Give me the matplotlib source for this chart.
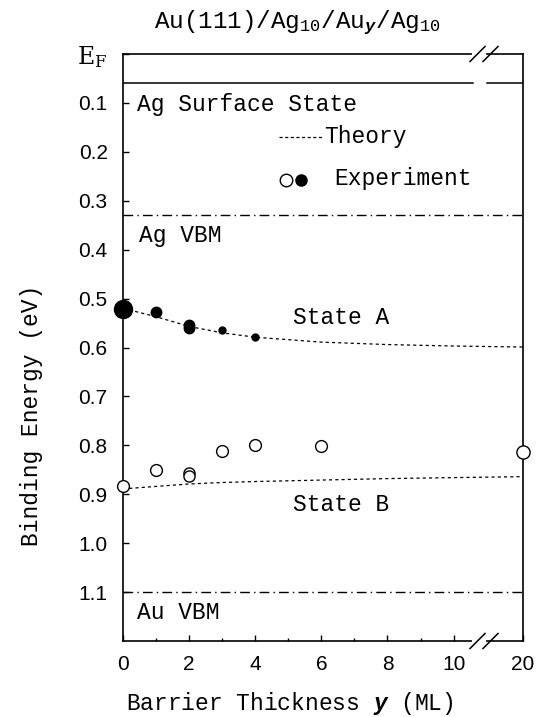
"""Binding energy of quantum-well states in Au(111)/Ag10/Auy/Ag10 vs. barrier thickness."""

import numpy as np
import matplotlib
matplotlib.use("Agg")
import matplotlib.pyplot as plt

plt.rcParams["mathtext.fontset"] = "custom"
plt.rcParams["mathtext.rm"] = "Liberation Mono"
plt.rcParams["mathtext.it"] = "Liberation Mono:italic:bold"

MONO = "Liberation Mono"
SANS = "Liberation Sans"

# ── data ──────────────────────────────────────────────────────────────────────
# State A (filled circles)
a_y    = [0, 1, 2, 2, 3, 4]
a_e    = [0.522, 0.527, 0.553, 0.560, 0.564, 0.578]
a_size = [13, 7.5, 7.5, 7.5, 5, 5]

# State B (open circles)
b_y    = [0, 1, 2, 2, 3, 4, 6, 20]
b_e    = [0.884, 0.850, 0.856, 0.863, 0.812, 0.800, 0.801, 0.814]
b_size = [8.5, 8.5, 8, 8, 8.5, 8.5, 8.5, 9.5]

# theory curves
th_y  = [0, 1, 2, 3, 4, 6, 8, 10, 20]
th_a  = [0.520, 0.537, 0.557, 0.570, 0.579, 0.589, 0.594, 0.597, 0.599]
th_b  = [0.889, 0.884, 0.879, 0.876, 0.874, 0.871, 0.868, 0.866, 0.864]

# reference energies
E_SURF   = 0.060
E_AG_VBM = 0.33
E_AU_VBM = 1.10

x_ticks      = [0, 2, 4, 6, 8, 10, 20]
x_minor      = [1, 3, 5, 7, 9]
y_ticks      = [0.0, 0.1, 0.2, 0.3, 0.4, 0.5, 0.6, 0.7, 0.8, 0.9, 1.0, 1.1]
y_ticklabels = ["E$_\\mathrm{F}$", "0.1", "0.2", "0.3", "0.4", "0.5", "0.6",
                "0.7", "0.8", "0.9", "1.0", "1.1"]

# ── broken x scale: linear up to 11, then compressed to 20 ───────────────────
K = 1.1 / 9.0


def fwd(x):
    x = np.asarray(x, dtype=float)
    return np.where(x <= 11, x, 11 + (x - 11) * K)


def inv(x):
    x = np.asarray(x, dtype=float)
    return np.where(x <= 11, x, 11 + (x - 11) / K)


fig = plt.figure(figsize=(5.4, 7.17), dpi=100)
fig.patch.set_facecolor("white")
ax = fig.add_axes([123 / 540, 1 - 641 / 717, 400 / 540, 587 / 717])
ax.set_xscale("function", functions=(fwd, inv))
ax.set_xlim(0, 20)
ax.set_ylim(1.2, 0)

for s in ax.spines.values():
    s.set_linewidth(1.2)

# reference lines
ax.axhline(E_SURF, xmin=0, xmax=0.875, color="black", lw=1.1)
ax.axhline(E_SURF, xmin=0.91, xmax=1, color="black", lw=1.1)
ax.axhline(E_AG_VBM, color="black", lw=1.0, ls=(0, (7, 3, 1, 3)))
ax.axhline(E_AU_VBM, color="black", lw=1.0, ls=(0, (7, 3, 1, 3)))

# theory
ax.plot(th_y, th_a, color="black", lw=0.9, ls=(0, (2.5, 2.5)))
ax.plot(th_y, th_b, color="black", lw=0.9, ls=(0, (2.5, 2.5)))

# experiment
for x, e, s in zip(a_y, a_e, a_size):
    ax.plot(x, e, "o", ms=s, mfc="black", mec="black", clip_on=False, zorder=5)
for x, e, s in zip(b_y, b_e, b_size):
    ax.plot(x, e, "o", ms=s, mfc="white", mec="black", mew=1.0, clip_on=False, zorder=5)

# ticks
ax.set_xticks(x_ticks)
ax.set_xticklabels([str(t) for t in x_ticks])
ax.set_xticks(x_minor, minor=True)
ax.set_yticks(y_ticks)
ax.set_yticklabels(y_ticklabels)
ax.tick_params(axis="x", which="major", direction="in", length=4.5, width=1.0,
               pad=10, labelsize=15)
ax.tick_params(axis="x", which="minor", direction="in", length=2.5, width=1.0)
ax.tick_params(axis="y", direction="in", length=4, width=1.0, pad=11, labelsize=15)
for lab in ax.get_xticklabels() + ax.get_yticklabels():
    lab.set_fontfamily(SANS)
ef = ax.get_yticklabels()[0]
ef.set_fontfamily("DejaVu Serif")
ef.set_math_fontfamily("dejavuserif")
ef.set_fontsize(17)

# axis break marks (top and bottom)
for yb in (0.0, 1.0):
    ax.plot([0.878, 0.902], [yb, yb], transform=ax.transAxes, color="white",
            lw=3, clip_on=False, zorder=6)
    for x0 in (0.8675, 0.9):
        ax.plot([x0, x0 + 0.0375], [yb - 0.0128, yb + 0.0128], transform=ax.transAxes,
                color="black", lw=1.1, clip_on=False, zorder=7)

# labels inside plot
txt = dict(family=MONO, fontsize=16.5, color="black", va="center", ha="left")
ytr = ax.get_yaxis_transform()
ax.text(0.036, 0.104, "Ag Surface State", transform=ytr, **txt)
ax.text(0.040, 0.372, "Ag VBM", transform=ytr, **txt)
ax.text(0.425, 0.538, "State A", transform=ytr, **txt)
ax.text(0.425, 0.920, "State B", transform=ytr, **txt)
ax.text(0.036, 1.142, "Au VBM", transform=ytr, **txt)

# legend drawn by hand
ax.plot([0.39, 0.497], [0.17, 0.17], transform=ytr,
        color="black", lw=0.9, ls=(0, (2.5, 2.0)))
ax.text(0.502, 0.168, "Theory", transform=ytr, **txt)
ax.plot(0.408, 0.257, "o", ms=9, mfc="white", mec="black", mew=1.0, transform=ytr)
ax.plot(0.445, 0.257, "o", ms=8, mfc="black", mec="black", transform=ytr)
ax.text(0.528, 0.255, "Experiment", transform=ytr, **txt)

# axis labels and title
ax.set_ylabel("Binding Energy (eV)", family=MONO, fontsize=16.5)
ax.yaxis.set_label_coords(-0.2, 0.385)
ax.set_xlabel("Barrier Thickness $\\mathit{y}$ (ML)", family=MONO, fontsize=16.5)
ax.xaxis.set_label_coords(0.4175, -0.083)
fig.text(297 / 540, 1 - 23 / 717, "Au(111)/Ag$_{10}$/Au$_{\\mathit{y}}$/Ag$_{10}$",
         family=MONO, fontsize=17.5, ha="center", va="center")

fig.savefig("out.png", dpi=100, facecolor="white")
